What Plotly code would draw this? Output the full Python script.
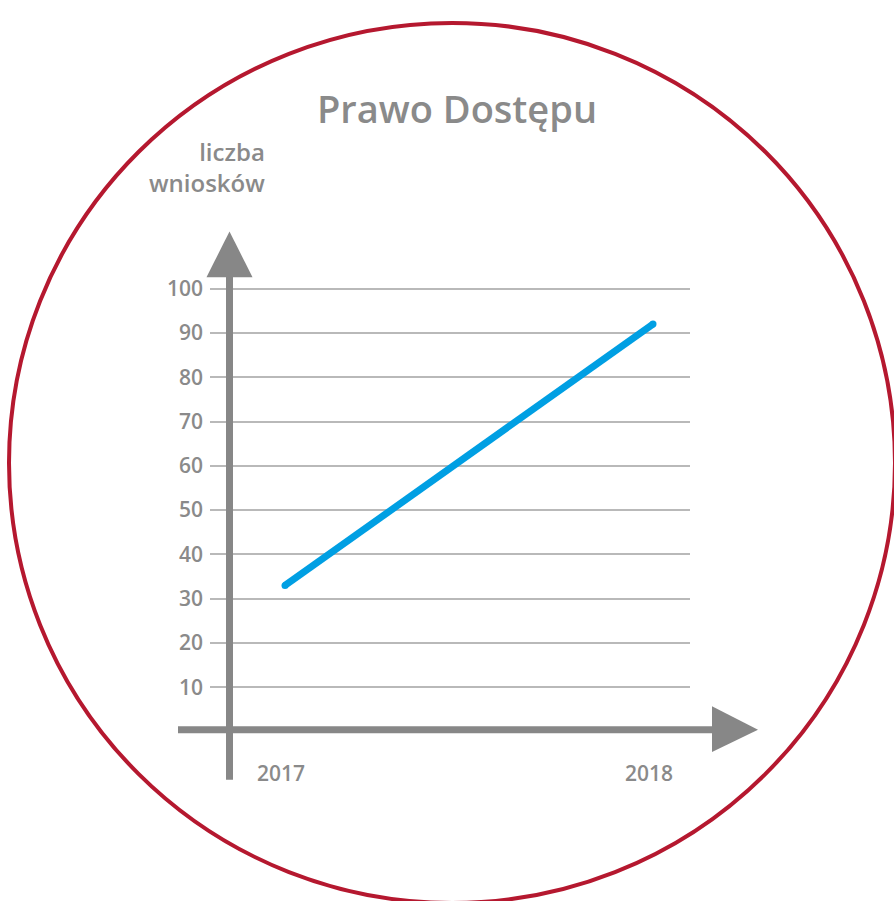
import plotly.graph_objects as go

# ---- data ----
years = [2017, 2018]
wnioski = [33, 92]
ytick_vals = [10, 20, 30, 40, 50, 60, 70, 80, 90, 100]
xtick_labels = ["2017", "2018"]
title_text = "Prawo Dostępu"
ylabel_text = "liczba<br>wniosków"

W, H = 894, 901
GRAY = "#8a8a8a"
AXIS = "#878787"
GRID = "#b9b9b9"
RED = "#b5182f"
BLUE = "#009fe3"
FONT = "Open Sans"

def px(x):
    return x / W

def py(y):
    return 1 - y / H

# plot area geometry (pixels)
left_px, right_px = 210, 690
zero_py = 730.5
unit_py = 4.46  # px per y unit
ymax = 102
top_py = zero_py - ymax * unit_py
x0_px, x1_px = 285, 653  # 2017 and 2018 positions
ppu = x1_px - x0_px
xmin = years[0] - (x0_px - left_px) / ppu
xmax = years[0] + (right_px - x0_px) / ppu

fig = go.Figure()
fig.add_trace(go.Scatter(
    x=years, y=wnioski, mode="lines+markers",
    line=dict(color=BLUE, width=7),
    marker=dict(color=BLUE, size=7),
    hoverinfo="skip", showlegend=False,
))

shapes = []
# circle
cx, cy, r = 452, 460, 443
shapes.append(dict(type="circle", xref="paper", yref="paper",
                   x0=px(cx - r), x1=px(cx + r), y0=py(cy + r), y1=py(cy - r),
                   line=dict(color=RED, width=4), layer="below"))
# y axis line + arrow
ax_x = 229.5
shapes.append(dict(type="line", xref="paper", yref="paper",
                   x0=px(ax_x), x1=px(ax_x), y0=py(779), y1=py(268),
                   line=dict(color=AXIS, width=7)))
shapes.append(dict(type="path", xref="paper", yref="paper",
                   path=f"M {px(ax_x-23)} {py(273)} L {px(ax_x)} {py(227)} L {px(ax_x+23)} {py(273)} Z",
                   fillcolor=AXIS, line=dict(width=0)))
# x axis line + arrow
shapes.append(dict(type="line", xref="paper", yref="paper",
                   x0=px(178), x1=px(718), y0=py(728.5), y1=py(728.5),
                   line=dict(color=AXIS, width=7)))
shapes.append(dict(type="path", xref="paper", yref="paper",
                   path=f"M {px(712)} {py(705)} L {px(758)} {py(728.5)} L {px(712)} {py(751)} Z",
                   fillcolor=AXIS, line=dict(width=0)))

fig.update_layout(
    width=W, height=H,
    margin=dict(l=0, r=0, t=0, b=0),
    paper_bgcolor="white", plot_bgcolor="rgba(0,0,0,0)",
    shapes=shapes,
    title=dict(text=title_text, x=px(457), xanchor="center",
               yref="container", y=py(110), yanchor="middle",
               font=dict(family=FONT, size=38, color=GRAY, weight=600)),
    annotations=[dict(text=ylabel_text, xref="paper", yref="paper",
                      x=px(267), y=py(162), xanchor="right", yanchor="middle",
                      align="right", showarrow=False,
                      font=dict(family=FONT, size=24, color=GRAY, weight=600))],
    xaxis=dict(domain=[px(left_px), px(right_px)], range=[xmin, xmax],
               tickvals=years, ticktext=xtick_labels, showgrid=False,
               zeroline=False, showline=False, ticks="",
               ticklabelstandoff=27, ticklabelshift=-4, fixedrange=True,
               tickfont=dict(family=FONT, size=21, color=GRAY, weight=600)),
    yaxis=dict(domain=[py(zero_py), py(top_py)], range=[0, ymax],
               tickvals=ytick_vals, showgrid=True, gridcolor=GRID, gridwidth=2,
               zeroline=False, showline=False, ticks="",
               ticklabelstandoff=6, fixedrange=True,
               tickfont=dict(family=FONT, size=21, color=GRAY, weight=600)),
)

fig.write_html("out.html", config={"displayModeBar": False})
